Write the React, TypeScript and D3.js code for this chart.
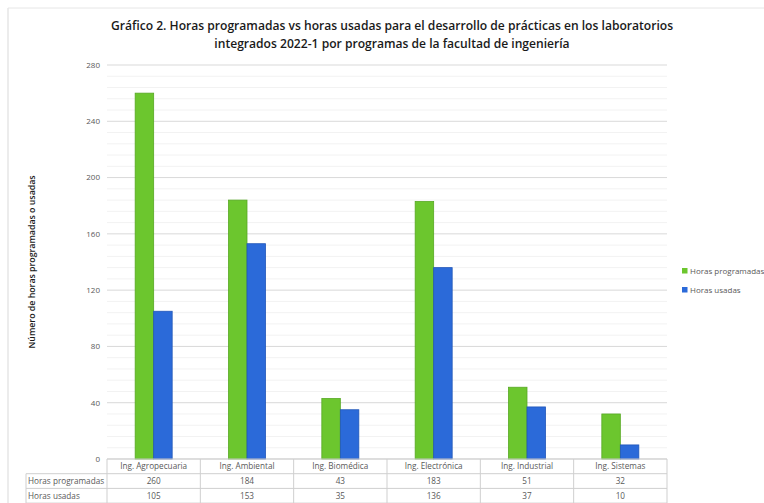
import * as d3 from 'd3';

// ── Data ──────────────────────────────────────────────────────────────────────
const CATEGORIES = ['Ing. Agropecuaria', 'Ing. Ambiental', 'Ing. Biomédica', 'Ing. Electrónica', 'Ing. Industrial', 'Ing. Sistemas'];
const PROGRAMADAS = [260, 184, 43, 183, 51, 32];
const USADAS = [105, 153, 35, 136, 37, 10];
const SERIES = ['Horas programadas', 'Horas usadas'];
const Y_TICKS = [0, 40, 80, 120, 160, 200, 240, 280];
const TITLE = [
  'Gráfico 2. Horas programadas vs horas usadas para el desarrollo de prácticas en los laboratorios',
  'integrados 2022-1 por programas de la facultad de ingeniería',
];

// ── Layout ────────────────────────────────────────────────────────────────────
const W = 764;
const H = 503;
const PL = 107, PR = 667, PT = 65, PB = 459;
const ROW = 14.7;
const TABLE_LEFT = 26;

const GREEN = '#6cc62e';
const GREEN_EDGE = '#57a823';
const BLUE = '#2b6ad9';
const BLUE_EDGE = '#2156b8';
const TXT = '#595959';
const FONT = '"Open Sans", "Noto Sans", sans-serif';

export default function App() {
  const x = d3.scaleBand<string>().domain(CATEGORIES).range([PL, PR]);
  const y = d3.scaleLinear().domain([0, 280]).range([PB, PT]);
  const bw = 18.5;
  const minor = d3.range(0, 281, 8);
  const values = [PROGRAMADAS, USADAS];
  const colors = [GREEN, BLUE];
  const edges = [GREEN_EDGE, BLUE_EDGE];

  return (
    <svg width={W} height={H} style={{ position: 'absolute', left: 0, top: 0, background: '#fff' }} fontFamily={FONT}>
      <rect x={0} y={0} width={W} height={H} fill="#fff" />
      {/* outer frame */}
      <line x1={8} x2={8} y1={8} y2={H} stroke="#d9d9d9" />
      <line x1={8} x2={W} y1={8} y2={8} stroke="#e6e6e6" />

      {/* title */}
      {TITLE.map((t, i) => (
        <text key={i} x={392} y={30 + i * 18} textAnchor="middle" fontSize={12.1} fontWeight={600} fill="#1a1a1a">
          {t}
        </text>
      ))}

      {/* minor gridlines */}
      {minor.filter(v => v % 40 !== 0).map(v => (
        <line key={'m' + v} x1={PL} x2={PR} y1={y(v)} y2={y(v)} stroke="#f2f2f2" strokeWidth={1} />
      ))}
      {/* major gridlines + labels */}
      {Y_TICKS.map(v => (
        <g key={v}>
          <line x1={PL} x2={PR} y1={y(v)} y2={y(v)} stroke="#d9d9d9" strokeWidth={1} />
          <text x={100} y={y(v)} dy="0.35em" textAnchor="end" fontSize={8} fill={TXT}>{v}</text>
        </g>
      ))}

      {/* y-axis title */}
      <text transform={`translate(35,${(PT + PB) / 2}) rotate(-90)`} textAnchor="middle" fontSize={8.8} fontWeight={600} fill="#1a1a1a">
        Número de horas programadas o usadas
      </text>

      {/* bars */}
      {CATEGORIES.map((c, i) => {
        const cx = (x(c) ?? 0) + x.bandwidth() / 2;
        return (
          <g key={c}>
            {values.map((vals, s) => (
              <rect
                key={s}
                x={cx - bw + s * bw}
                y={y(vals[i])}
                width={bw}
                height={PB - y(vals[i])}
                fill={colors[s]}
                stroke={edges[s]}
                strokeWidth={0.8}
              />
            ))}
          </g>
        );
      })}

      {/* data table */}
      <g stroke="#cfcfcf" strokeWidth={1}>
        <line x1={PL} x2={PR} y1={PB} y2={PB} />
        <line x1={TABLE_LEFT} x2={PR} y1={PB + ROW} y2={PB + ROW} />
        <line x1={TABLE_LEFT} x2={PR} y1={PB + ROW * 2} y2={PB + ROW * 2} />
        <line x1={TABLE_LEFT} x2={PR} y1={PB + ROW * 3} y2={PB + ROW * 3} />
        <line x1={TABLE_LEFT} x2={TABLE_LEFT} y1={PB + ROW} y2={PB + ROW * 3} />
        {CATEGORIES.map(c => (
          <line key={c} x1={x(c)} x2={x(c)} y1={PB} y2={PB + ROW * 3} />
        ))}
        <line x1={PR} x2={PR} y1={PB} y2={PB + ROW * 3} />
      </g>
      {CATEGORIES.map((c, i) => {
        const cx = (x(c) ?? 0) + x.bandwidth() / 2;
        return (
          <g key={c} fontSize={8.2} fill={TXT} textAnchor="middle">
            <text x={cx} y={PB + ROW / 2} dy="0.35em">{c}</text>
            <text x={cx} y={PB + ROW * 1.5} dy="0.35em">{PROGRAMADAS[i]}</text>
            <text x={cx} y={PB + ROW * 2.5} dy="0.35em">{USADAS[i]}</text>
          </g>
        );
      })}
      {SERIES.map((s, i) => (
        <text key={s} x={TABLE_LEFT + 2} y={PB + ROW * (1.5 + i)} dy="0.35em" fontSize={8.2} fill={TXT}>{s}</text>
      ))}

      {/* legend */}
      {SERIES.map((s, i) => (
        <g key={s} transform={`translate(682,${271 + i * 19})`}>
          <rect x={0} y={-3} width={5.5} height={5.5} fill={colors[i]} />
          <text x={8} y={0} dy="0.35em" fontSize={8} fill={TXT}>{s}</text>
        </g>
      ))}
    </svg>
  );
}
